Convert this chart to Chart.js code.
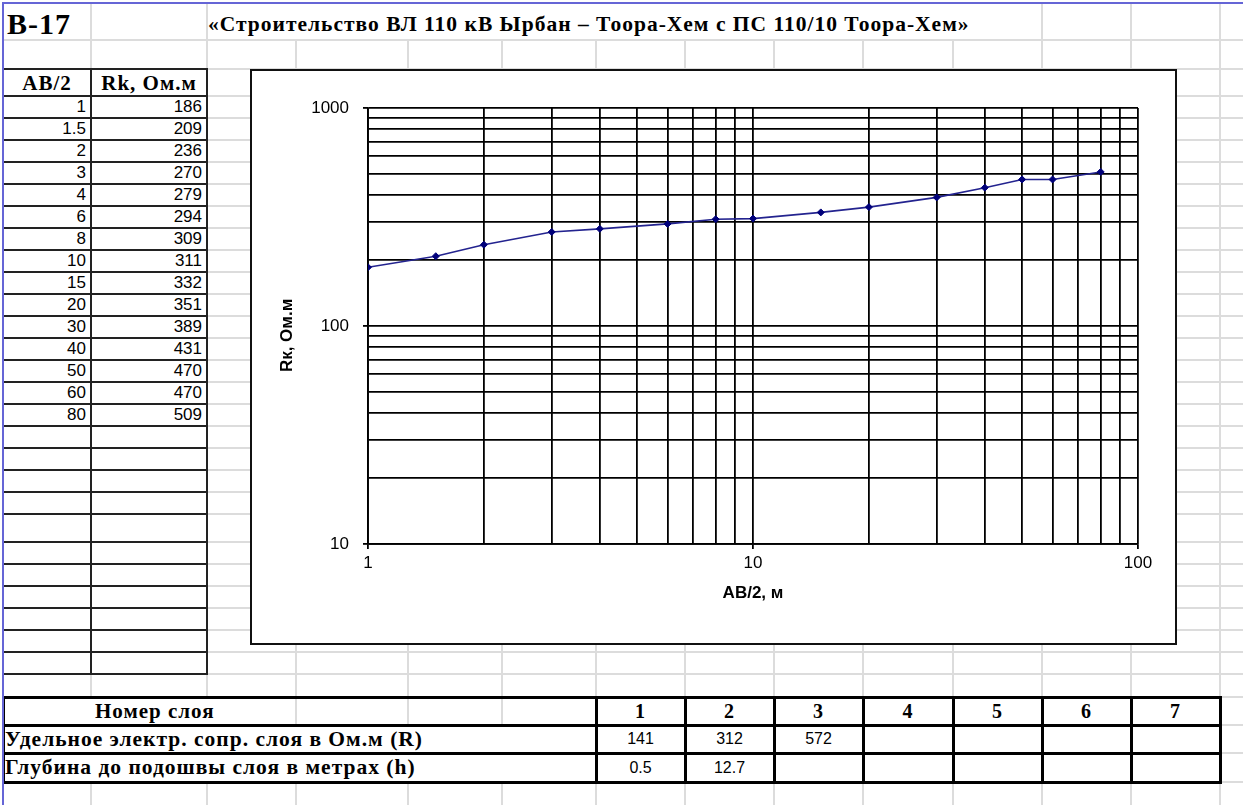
<!DOCTYPE html>
<html lang="ru">
<head>
<meta charset="utf-8">
<title>B-17</title>
<script src="https://cdn.jsdelivr.net/npm/chart.js@4.4.1/dist/chart.umd.min.js"></script>
<style>
  html, body { margin: 0; padding: 0; background: #fff; }
  #sheet { position: relative; width: 1243px; height: 805px; overflow: hidden; color: #000;
           font-family: 'Liberation Sans', Arial, sans-serif; }
  .ln { position: absolute; }
  .txt { position: absolute; white-space: nowrap; box-sizing: border-box; }
  .serif { font-family: 'Liberation Serif', 'Times New Roman', serif; font-weight: bold; letter-spacing: 1px; }
  .num { font-size: 17px; }
  #chartBox { position: absolute; left: 250px; top: 69px; width: 927px; height: 576px; z-index: 5;
              box-sizing: border-box; border: 2px solid #111; background: #fff; }
  #chartWrap { position: absolute; left: 0; top: 0; right: 0; bottom: 0; }
  .edge { position: absolute; background: #6565d6; z-index: 10; }
</style>
</head>
<body>
<div id="sheet">
  <div id="chartBox"><div id="chartWrap"><canvas id="chart"></canvas></div></div>
  <div class="edge" style="left:2px; top:2px; width:2px; height:803px;"></div>
  <div class="edge" style="left:2px; top:2px; width:1241px; height:2px;"></div>
</div>
<script>
// sounding data: AB/2 (m) vs apparent resistivity Rk (Ohm.m)
const abHalf = [1, 1.5, 2, 3, 4, 6, 8, 10, 15, 20, 30, 40, 50, 60, 80];
const rk = [186, 209, 236, 270, 279, 294, 309, 311, 332, 351, 389, 431, 470, 470, 509];

// layer interpretation table
const layerNumbers = [1, 2, 3, 4, 5, 6, 7];
const layerR = ['141', '312', '572'];
const layerH = ['0.5', '12.7'];

// log axis ticks (gridlines), labels only on decades
const xTickValues = [1, 2, 3, 4, 5, 6, 7, 8, 9, 10, 20, 30, 40, 50, 60, 70, 80, 90, 100];
const yTickValues = [10, 20, 30, 40, 50, 60, 70, 80, 90, 100, 200, 300, 400, 500, 600, 700, 800, 900, 1000];

// spreadsheet geometry
const COL_X = [91, 207, 296, 408, 502, 596, 685, 774, 863, 953, 1042, 1131, 1220];
const ROW_Y = [40, 69, 96, 118, 140, 162, 184, 206, 228, 250, 272, 294, 316, 338, 360, 382, 404,
               426, 448, 470, 492, 514, 542, 564, 586, 608, 630, 652, 674, 697, 725, 753, 782];

const sheet = document.getElementById('sheet');

function el(cls, x, y, w, h, css) {
  const d = document.createElement('div');
  d.className = cls;
  Object.assign(d.style, { left: x + 'px', top: y + 'px', width: w + 'px', height: h + 'px' }, css || {});
  sheet.appendChild(d);
  return d;
}
const hline = (y, x1, x2, color, t) => el('ln', x1, y - Math.floor(t / 2), x2 - x1, t, { background: color });
const vline = (x, y1, y2, color, t) => el('ln', x - Math.floor(t / 2), y1, t, y2 - y1, { background: color });
function text(x, y, w, h, str, cls, align, pad) {
  const d = el('txt ' + cls, x, y, w, h, { lineHeight: h + 'px', textAlign: align || 'left' });
  if (pad) d.style.padding = pad;
  d.textContent = str;
  return d;
}

// light sheet gridlines
const GRID = '#dcdcdc';
COL_X.forEach(x => vline(x, 3, 805, GRID, 2));
ROW_Y.forEach(y => hline(y, 3, 1243, GRID, 2));

// row 1: id + project title (title overflows across cells)
text(7, 7, 84, 34, 'B-17', 'serif', 'left').style.fontSize = '30px';
el('ln', 208, 4, 833, 35, { background: '#fff' });
text(208, 7, 833, 34, '«Строительство ВЛ 110 кВ Ырбан – Тоора-Хем с ПС 110/10 Тоора-Хем»', 'serif', 'left')
  .style.fontSize = '21.5px';

// left data table
const tRows = ROW_Y.slice(ROW_Y.indexOf(69), ROW_Y.indexOf(674) + 1);
el('ln', 3, 69, 204, 605, { background: '#fff' });
tRows.forEach(y => hline(y, 3, 208, '#222', 2));
[3, 91, 207].forEach(x => vline(x, 68, 675, '#222', 2));
text(3, 70, 88, 27, 'AB/2', 'serif', 'center').style.fontSize = '21px';
text(91, 70, 116, 27, 'Rk, Ом.м', 'serif', 'center').style.fontSize = '21px';
abHalf.forEach((v, i) => {
  const y0 = tRows[i + 1], h = tRows[i + 2] - y0;
  text(3, y0, 88, h, String(v), 'num', 'right', '0 5px 0 0');
  text(91, y0, 116, h, String(rk[i]), 'num', 'right', '0 5px 0 0');
});

// bottom layer table
const bCols = [596, 685, 774, 863, 953, 1042, 1131, 1220];
const bRows = [697, 725, 753, 782];
el('ln', 3, 697, 1218, 85, { background: '#fff' });
[296, 408, 502].forEach(x => vline(x, 697, 725, GRID, 2));
bRows.forEach(y => hline(y, 3, 1222, '#000', 3));
bCols.forEach(x => vline(x, 696, 783, '#000', 3));
vline(3, 696, 783, '#000', 3);
text(95, 697, 200, 28, 'Номер слоя', 'serif', 'left').style.fontSize = '21px';
text(5, 725, 590, 28, 'Удельное электр. сопр. слоя в Ом.м (R)', 'serif', 'left').style.fontSize = '21.5px';
text(5, 753, 590, 29, 'Глубина до подошвы слоя в метрах (h)', 'serif', 'left').style.fontSize = '21.5px';
layerNumbers.forEach((n, i) => {
  const x0 = bCols[i], w = bCols[i + 1] - x0;
  text(x0, 697, w, 28, String(n), 'serif', 'center').style.fontSize = '20px';
  if (layerR[i]) text(x0, 725, w, 28, layerR[i], 'num', 'center').style.fontSize = '16px';
  if (layerH[i]) text(x0, 753, w, 29, layerH[i], 'num', 'center').style.fontSize = '16px';
});

// chart
const isDecade = v => Math.abs(Math.log10(v) - Math.round(Math.log10(v))) < 1e-6;
const tickFont = { family: "'Liberation Sans', Arial, sans-serif", size: 17 };
const titleFont = { family: "'Liberation Sans', Arial, sans-serif", size: 17, weight: 'bold' };
const gridOpts = {
  color: '#000',
  lineWidth: 1.8,
  tickLength: 5,
  tickColor: c => (c.tick && isDecade(c.tick.value)) ? '#000' : 'rgba(0,0,0,0)'
};

new Chart(document.getElementById('chart'), {
  type: 'scatter',
  data: {
    datasets: [{
      data: abHalf.map((x, i) => ({ x, y: rk[i] })),
      showLine: true,
      borderColor: '#23238f',
      borderWidth: 1.6,
      pointStyle: 'rectRot',
      pointRadius: 3.5,
      pointBackgroundColor: '#00007a',
      pointBorderColor: '#00007a',
      pointBorderWidth: 1
    }]
  },
  options: {
    responsive: true,
    maintainAspectRatio: false,
    animation: false,
    layout: { padding: { top: 37, right: 37, left: 0, bottom: 0 } },
    plugins: { legend: { display: false }, tooltip: { enabled: false } },
    scales: {
      x: {
        type: 'logarithmic',
        min: 1,
        max: 100,
        afterBuildTicks: s => { s.ticks = xTickValues.map(v => ({ value: v })); },
        afterFit: s => { s.height = 99; },
        grid: gridOpts,
        border: { color: '#000', width: 1.8 },
        ticks: {
          autoSkip: false, maxRotation: 0, padding: 4, color: '#000', font: tickFont,
          callback: v => isDecade(v) ? String(v) : ''
        },
        title: { display: true, text: 'AB/2, м', color: '#000', font: titleFont, padding: { top: 0, bottom: 39 } }
      },
      y: {
        type: 'logarithmic',
        min: 10,
        max: 1000,
        afterBuildTicks: s => { s.ticks = yTickValues.map(v => ({ value: v })); },
        afterFit: s => { s.width = 116; },
        grid: gridOpts,
        border: { color: '#000', width: 1.8 },
        ticks: {
          autoSkip: false, padding: 14, color: '#000', font: tickFont,
          callback: v => isDecade(v) ? String(v) : ''
        },
        // trailing spaces push the rotated title slightly down, as in the source sheet
        title: { display: true, text: 'Rк, Ом.м\u00a0\u00a0\u00a0\u00a0', color: '#000', font: titleFont, padding: { top: 25, bottom: 0 } }
      }
    }
  }
});
</script>
</body>
</html>
